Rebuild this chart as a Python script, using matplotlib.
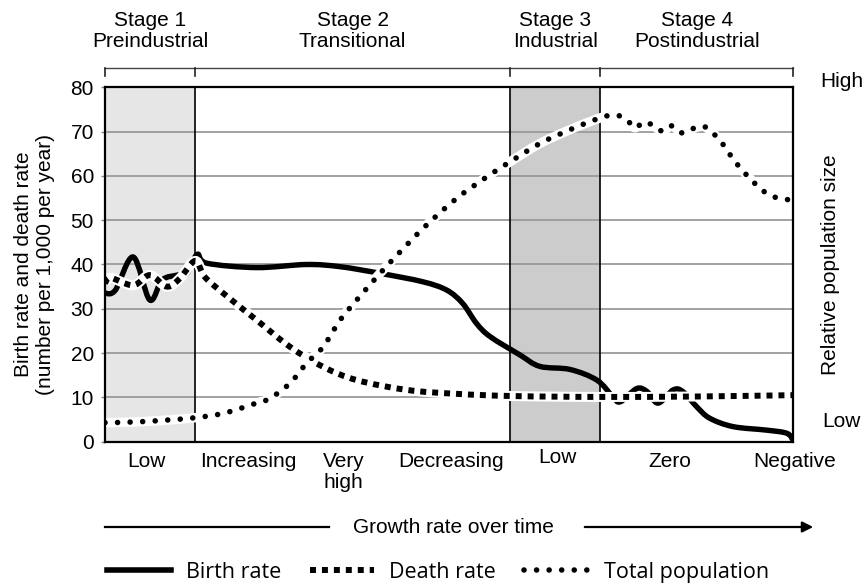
import numpy as np
import matplotlib
matplotlib.use("Agg")
import matplotlib.pyplot as plt
from matplotlib.path import Path
from matplotlib.patches import PathPatch, FancyArrowPatch
from matplotlib.lines import Line2D

plt.rcParams['font.family'] = ['Liberation Sans', 'DejaVu Sans']

# time axis is arbitrary: 0 = start of stage 1, 100 = end of stage 4
stage_edges = [0, 13.1, 58.9, 72.0, 100]
stage_titles = ["Stage 1\nPreindustrial", "Stage 2\nTransitional", "Stage 3\nIndustrial", "Stage 4\nPostindustrial"]

growth_labels = ["Low", "Increasing", "Very\nhigh", "Decreasing", "Low", "Zero", "Negative"]
growth_x = [6.0, 20.9, 34.7, 50.3, 65.8, 82.1, 100.3]

# values (number per 1,000 per year)
birth_t = [0, 1.5, 4.1, 6.5, 8.3, 10.5, 11.9, 13.4, 14.8, 22.0, 29.3, 34.2, 40.0, 46.2, 49.7,
           52.0, 54.0, 56.0, 60.3, 63.2, 67.6, 71.5, 73.8, 74.9, 77.3, 78.8, 80.4, 82.6, 84.0,
           86.0, 87.9, 91.3, 96.2, 99.1, 100]
birth_rate = [33.5, 34.2, 41.7, 32.0, 36.5, 37.6, 38.0, 42.3, 40.3, 39.3, 40.0, 39.5, 38.0, 36.1, 34.2,
              31.2, 26.7, 23.7, 19.6, 17.0, 16.3, 13.9, 10.2, 9.0, 12.0, 11.3, 8.7, 11.7, 11.3,
              7.9, 5.3, 3.4, 2.6, 1.9, 0.4]

death_t = [0, 0.8, 4.1, 6.5, 9.0, 10.9, 13.1, 14.5, 17.2, 22.0, 26.9, 31.7, 36.6, 43.8, 51.1,
           59.3, 72.0, 86.0, 100]
death_rate = [35.7, 37.0, 35.3, 37.6, 35.0, 36.9, 40.8, 37.2, 33.5, 27.5, 21.4, 16.9, 13.9, 11.7, 10.8,
              10.3, 10.1, 10.2, 10.5]

pop_t = [0, 5.1, 12.4, 17.2, 22.0, 24.0, 26.9, 29.3, 31.7, 34.2, 36.6, 38.9, 41.4, 46.2, 51.1,
         55.9, 58.9, 63.2, 68.0, 72.4, 74.4, 75.9, 77.0, 78.5, 79.9, 81.1, 82.4, 83.9, 85.5,
         87.0, 88.4, 89.7, 91.6, 94.0, 96.4, 98.3, 100]
total_population = [4.3, 4.5, 5.3, 6.4, 8.7, 9.8, 13.2, 17.7, 21.4, 27.5, 32.0, 36.1, 40.4, 48.1, 54.9,
                    60.2, 63.2, 67.3, 70.7, 73.3, 73.7, 72.6, 70.9, 72.2, 71.1, 70.1, 71.3, 69.7, 70.7,
                    71.2, 69.6, 67.4, 63.2, 59.0, 55.8, 54.9, 54.5]

death_style = (0, (1, 1.0))
pop_style = (0, (0.01, 2.25))


def smooth_path(xs, ys):
    # Catmull-Rom through the read points, drawn by matplotlib as cubic Beziers
    pts = np.column_stack([xs, ys]).astype(float)
    ext = np.vstack([pts[0], pts, pts[-1]])
    verts = [pts[0]]
    codes = [Path.MOVETO]
    for i in range(len(pts) - 1):
        p0, p1, p2, p3 = ext[i], ext[i + 1], ext[i + 2], ext[i + 3]
        verts += [p1 + (p2 - p0) / 6, p2 - (p3 - p1) / 6, p2]
        codes += [Path.CURVE4] * 3
    return Path(verts, codes)


fig = plt.figure(figsize=(8.67, 5.84), dpi=100)
ax = fig.add_axes([0.1211, 0.2437, 0.7935, 0.6068])
ax.set_xlim(0, 100)
ax.set_ylim(0, 80)
ax.set_xticks([])
ax.set_yticks(range(0, 81, 10))
ax.tick_params(axis='y', length=3, width=1, color='#888888', pad=5, labelsize=15)
ax.set_axisbelow(True)
ax.grid(axis='y', color='#9a9a9a', lw=1.3)
for s in ax.spines.values():
    s.set_linewidth(1.6)
    s.set_zorder(10)

# shaded stages and boundaries
ax.axvspan(stage_edges[0], stage_edges[1], color='#e6e6e6', zorder=0.2, lw=0)
ax.axvspan(stage_edges[2], stage_edges[3], color='#cccccc', zorder=0.2, lw=0)
for e in stage_edges[1:4]:
    ax.axvline(e, color='black', lw=1.2, zorder=2)

# curves
bp = smooth_path(birth_t, birth_rate)
ax.add_patch(PathPatch(bp, fill=False, lw=3.9, color='black', capstyle='round', joinstyle='round', zorder=3))

dp = smooth_path(death_t, death_rate)
ax.add_patch(PathPatch(dp, fill=False, lw=7.2, color='white', zorder=4))
ax.add_patch(PathPatch(dp, fill=False, lw=4.3, color='black', linestyle=death_style,
                       capstyle='butt', zorder=5))

pp = smooth_path(pop_t, total_population)
ax.add_patch(PathPatch(pp, fill=False, lw=6.8, color='white', zorder=6))
ax.add_patch(PathPatch(pp, fill=False, lw=4.0, color='black', linestyle=pop_style,
                       capstyle='round', zorder=7))

# stage bracket and titles
tr = ax.get_xaxis_transform()
ax.plot([0, 100], [1.0536, 1.0536], transform=tr, clip_on=False, color='#444444', lw=1)
for e in stage_edges:
    ax.plot([e, e], [1.0536, 1.032], transform=tr, clip_on=False, color='#222222', lw=1.2)
for i in range(4):
    mid = (stage_edges[i] + stage_edges[i + 1]) / 2
    ax.text(mid, 1.158, stage_titles[i], transform=tr, ha='center', va='center', fontsize=15,
            linespacing=1.15)

# growth rate labels under the axis
for x, lab in zip(growth_x, growth_labels):
    if "\n" in lab:
        ax.text(x, -0.028, lab, transform=tr, ha='center', va='top', fontsize=15, linespacing=1.15)
    elif x == growth_x[4]:
        ax.text(x, -0.046, lab, transform=tr, ha='center', va='center', fontsize=15)
    else:
        ax.text(x, -0.0573, lab, transform=tr, ha='center', va='center', fontsize=15)

ax.set_ylabel('Birth rate and death rate\n(number per 1,000 per year)', fontsize=15, linespacing=1.2)
ax.yaxis.set_label_coords(-0.072, 0.5)
ax.text(1.054, 0.5, 'Relative population size', transform=ax.transAxes, rotation=90,
        ha='center', va='center', fontsize=15)
ax.text(1.039, 1.015, 'High', transform=ax.transAxes, ha='left', va='center', fontsize=15)
ax.text(1.042, 0.058, 'Low', transform=ax.transAxes, ha='left', va='center', fontsize=15)

# growth arrow
fig.add_artist(Line2D([105 / 867, 329 / 867], [0.0976, 0.0976], transform=fig.transFigure,
                      color='black', lw=1.6))
fig.text(453 / 867, 0.0976, 'Growth rate over time', ha='center', va='center', fontsize=15)
fig.add_artist(FancyArrowPatch((582 / 867, 0.0976), (816 / 867, 0.0976), transform=fig.transFigure,
                               arrowstyle='-|>', mutation_scale=16, lw=1.6, color='black'))

# legend
handles = [
    Line2D([], [], color='black', lw=4.0, label='Birth rate'),
    Line2D([], [], color='black', lw=4.3, linestyle=death_style, dash_capstyle='butt', label='Death rate'),
    Line2D([], [], color='black', lw=4.0, linestyle=pop_style, dash_capstyle='round',
           label='Total population'),
]
fig.legend(handles=handles, loc='center', bbox_to_anchor=(0.505, 0.0205), ncol=3, frameon=False,
           handlelength=3.0, handletextpad=0.7, columnspacing=1.3,
           prop={'family': ['Open Sans', 'DejaVu Sans'], 'size': 15.5})

fig.savefig('out.png', dpi=100)
